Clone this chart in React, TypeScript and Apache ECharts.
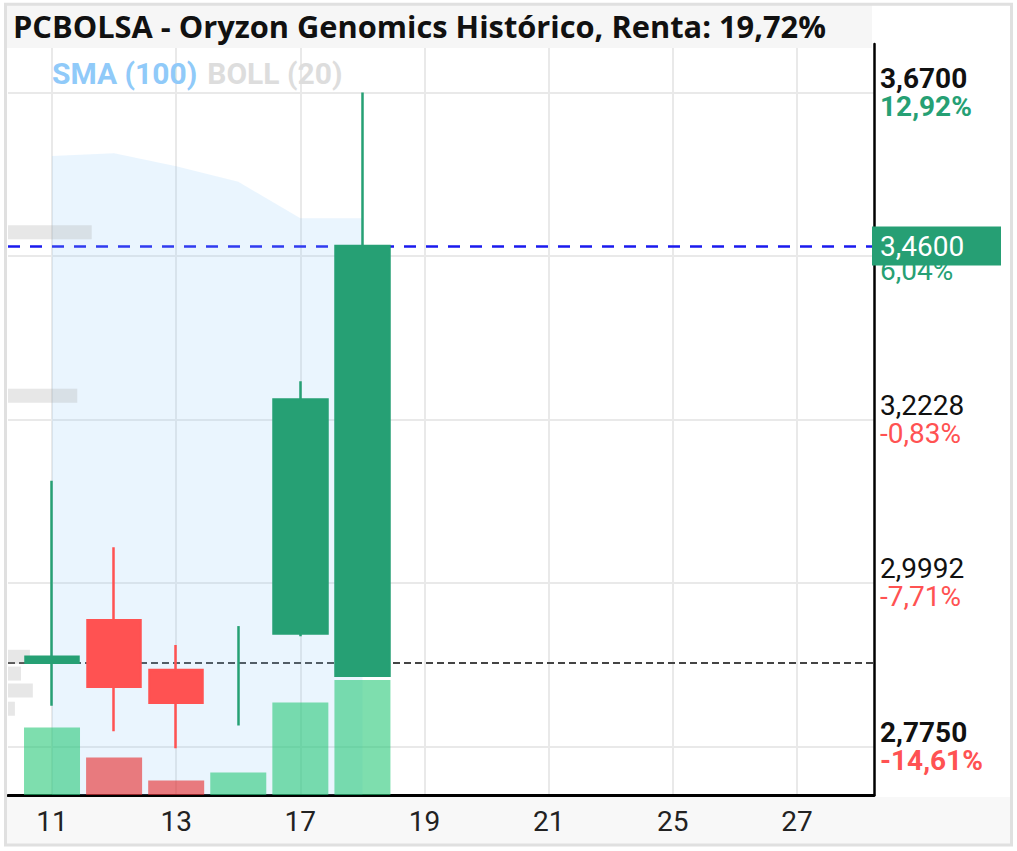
import React, { useEffect, useRef } from "react";
import * as echarts from "echarts";

// ---- data ----
const dates = ["11", "12", "13", "14", "17", "18", "19", "20", "21", "24", "25", "26", "27", "28"];
const candleOpen = [2.89, 2.948, 2.88, 2.89, 2.93, 2.872];
const candleClose = [2.898, 2.857, 2.835, 2.89, 3.25, 3.46];
const candleLow = [2.831, 2.796, 2.773, 2.804, 2.926, 2.872];
const candleHigh = [3.139, 3.048, 2.914, 2.94, 3.275, 3.67];
const volumes = [135000, 75000, 29000, 45000, 185000, 230000];
const smaValues = [3.583, 3.587, 3.569, 3.548, 3.498, 3.498];
const profilePrices = [3.479, 3.255, 2.898, 2.875, 2.852, 2.827];
const profileVolumes = [145000, 120000, 38000, 22500, 43000, 12000];
const yTickValues = [3.67, 3.4462, 3.2228, 2.9992, 2.775];
const yTickPrices = ["3,6700", "3,4462", "3,2228", "2,9992", "2,7750"];
const yTickPcts = ["12,92%", "6,04%", "-0,83%", "-7,71%", "-14,61%"];
const xTickIdx = [0, 2, 4, 6, 8, 10, 12];
const lastPrice = 3.46;
const lastPriceLabel = "3,4600";
const basePrice = 2.89;
const titleText = "PCBOLSA - Oryzon Genomics Histórico, Renta: 19,72%";

const GREEN = "#26a074";
const RED = "#ff5252";

export default function App() {
  const ref = useRef<HTMLDivElement>(null);
  useEffect(() => {
    document.body.style.margin = "0";
    const chart = echarts.init(ref.current!, null, { renderer: "svg" });
    const allCandles = candleOpen.map((o, i) => [i, o, candleClose[i], candleLow[i], candleHigh[i]]);
    const bodyCandles = allCandles.filter((c) => c[1] !== c[2]);
    const dojiCandles = allCandles.filter((c) => c[1] === c[2]);
    const volData = volumes.map((v, i) => ({
      value: [i, v],
      itemStyle: {
        color: candleClose[i] >= candleOpen[i] ? "rgba(40,200,120,0.6)" : "rgba(230,40,40,0.6)",
      },
    }));
    const smaData = smaValues.map((v, i) => [i, v]);
    const profData = profilePrices.map((p, i) => [profileVolumes[i], p]);

    const labelStyle = (i: number) => {
      const pctRed = yTickPcts[i].startsWith("-");
      const bold = i === 0 || i === yTickValues.length - 1;
      return {
        p: bold ? "pb" : "pn",
        c: (pctRed ? "r" : "g") + (bold ? "b" : "n"),
      };
    };

    const candleStyle = {
      color: GREEN,
      color0: RED,
      borderColor: GREEN,
      borderColor0: RED,
      borderWidth: 2.5,
    };

    const option: any = {
      animation: false,
      title: [
        {
          text: titleText,
          left: 8,
          top: 5,
          z: 10,
          textStyle: { fontFamily: "Open Sans", fontSize: 30.8, fontWeight: "bold", color: "#111" },
        },
        {
          text: "{a|SMA (100)}  {b|BOLL (20)}",
          left: 47,
          top: 53,
          z: 10,
          textStyle: {
            rich: {
              a: { fontFamily: "Roboto", fontSize: 30, fontWeight: "bold", color: "#90caf9" },
              b: { fontFamily: "Roboto", fontSize: 30, fontWeight: "bold", color: "#dddddd" },
            },
          },
        },
      ],
      grid: { left: 8, top: 44, right: 143, bottom: 56, outerBoundsMode: "none" },
      xAxis: [
        {
          type: "value",
          min: -0.709,
          max: 13.24,
          position: "bottom",
          z: 5,
          axisLine: { show: true, onZero: false, lineStyle: { color: "#000", width: 3 } },
          axisTick: { show: false, customValues: xTickIdx },
          axisLabel: {
            customValues: xTickIdx,
            formatter: (v: number) => dates[Math.round(v)] ?? "",
            fontFamily: "Roboto",
            fontSize: 28,
            color: "#222",
            margin: 12,
          },
          splitLine: { show: true, lineStyle: { color: "#e9e9e9", width: 2 } },
        },
        { type: "value", min: 0, max: 1500000, show: false },
      ],
      yAxis: [
        {
          type: "value",
          position: "right",
          min: 2.7089,
          max: 3.7364,
          z: 5,
          axisLine: { show: true, onZero: false, lineStyle: { color: "#000", width: 2.5 } },
          axisTick: { show: false, customValues: yTickValues },
          axisLabel: {
            customValues: yTickValues,
            margin: 6,
            formatter: (v: number) => {
              let idx = 0;
              let best = Infinity;
              yTickValues.forEach((t, i) => {
                if (Math.abs(t - v) < best) {
                  best = Math.abs(t - v);
                  idx = i;
                }
              });
              const s = labelStyle(idx);
              return `{${s.p}|${yTickPrices[idx]}}\n{${s.c}|${yTickPcts[idx]}}`;
            },
            rich: {
              pn: { fontFamily: "Roboto", fontSize: 28, lineHeight: 28, color: "#111" },
              pb: { fontFamily: "Roboto", fontSize: 28, lineHeight: 28, color: "#111", fontWeight: "bold" },
              gn: { fontFamily: "Roboto", fontSize: 28, lineHeight: 28, color: GREEN },
              gb: { fontFamily: "Roboto", fontSize: 28, lineHeight: 28, color: GREEN, fontWeight: "bold" },
              rn: { fontFamily: "Roboto", fontSize: 28, lineHeight: 28, color: RED },
              rb: { fontFamily: "Roboto", fontSize: 28, lineHeight: 28, color: RED, fontWeight: "bold" },
            },
          },
          splitLine: { show: true, lineStyle: { color: "#e9e9e9", width: 2 } },
        },
        { type: "value", min: 0, max: 1502000, show: false },
      ],
      graphic: {
        elements: [
          {
            type: "rect",
            z: 7,
            shape: { x: 5, y: 4, width: 867, height: 44 },
            style: { fill: "#f6f6f6" },
          },
          {
            type: "rect",
            z: 1,
            shape: { x: 7, y: 797, width: 1004, height: 48 },
            style: { fill: "#f8f8f8" },
          },
          {
            type: "rect",
            z: 20,
            shape: { x: 5.5, y: 4.3, width: 1006, height: 840.7 },
            style: { fill: "none", stroke: "#e0e0e0", lineWidth: 3 },
          },
        ],
      },
      series: [
        {
          name: "SMA (100)",
          type: "line",
          z: 6,
          xAxisIndex: 0,
          yAxisIndex: 0,
          data: smaData,
          showSymbol: false,
          lineStyle: { width: 0 },
          areaStyle: { color: "rgba(144,202,249,0.27)", origin: "start" },
        },
        {
          type: "custom",
          z: 6,
          xAxisIndex: 1,
          yAxisIndex: 0,
          data: profData,
          encode: { x: 0, y: 1 },
          renderItem: (params: any, api: any) => {
            const p = api.value(1);
            const v = api.value(0);
            const s = api.coord([0, p]);
            const e = api.coord([v, p]);
            return {
              type: "rect",
              shape: { x: s[0], y: s[1] - 7, width: e[0] - s[0], height: 14 },
              style: { fill: "rgba(170,170,170,0.28)" },
            };
          },
        },
        {
          type: "bar",
          z: 6,
          xAxisIndex: 0,
          yAxisIndex: 1,
          barWidth: 56,
          data: volData,
        },
        {
          type: "candlestick",
          z: 7,
          xAxisIndex: 0,
          yAxisIndex: 0,
          barWidth: 1,
          encode: { x: 0, y: [1, 2, 3, 4] },
          data: dojiCandles,
          itemStyle: candleStyle,
        },
        {
          type: "candlestick",
          z: 7,
          xAxisIndex: 0,
          yAxisIndex: 0,
          barWidth: 54,
          encode: { x: 0, y: [1, 2, 3, 4] },
          data: bodyCandles,
          itemStyle: candleStyle,
          markLine: {
            silent: true,
            z: 6,
            symbol: ["none", "none"],
            data: [
              {
                yAxis: basePrice,
                lineStyle: { color: "#444", width: 2, type: [7, 4] },
                label: { show: false },
              },
              {
                yAxis: lastPrice,
                lineStyle: { color: "#1a1aee", width: 2.5, type: [12, 10] },
                label: {
                  show: true,
                  position: "end",
                  distance: -2,
                  formatter: lastPriceLabel,
                  color: "#fff",
                  backgroundColor: "#269f74",
                  fontFamily: "Roboto",
                  fontSize: 28,
                  lineHeight: 30,
                  padding: [5, 8, 4, 8],
                  width: 113,
                },
              },
            ],
          },
        },
      ],
    };
    chart.setOption(option);
    return () => chart.dispose();
  }, []);
  return <div ref={ref} style={{ width: 1017, height: 851 }} />;
}
